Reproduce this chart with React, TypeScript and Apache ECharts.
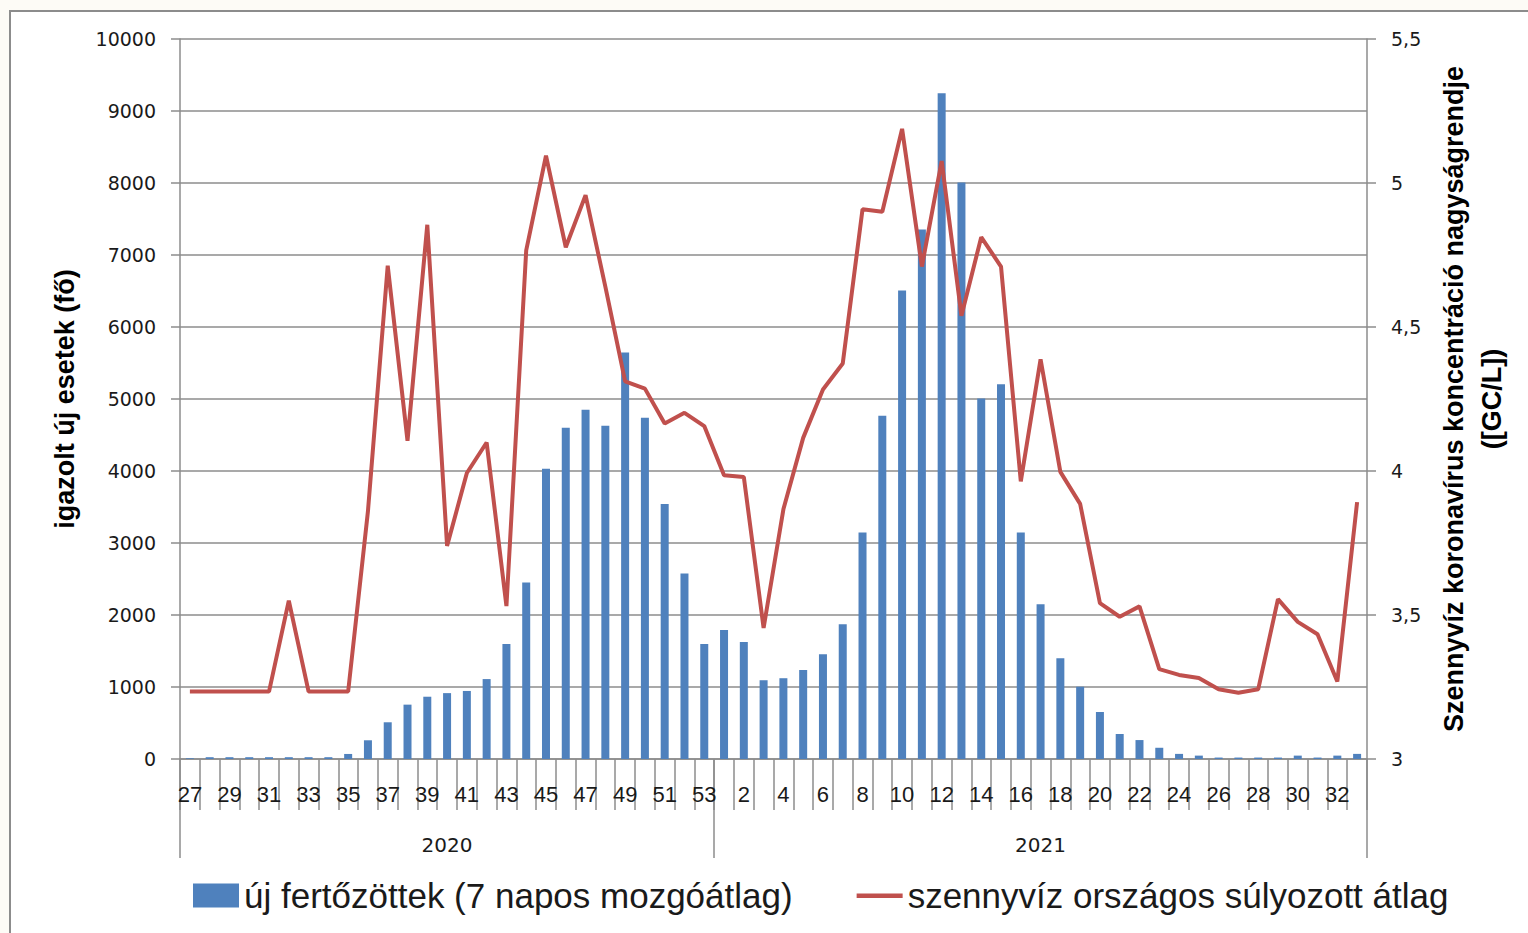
import React, { useEffect, useRef } from "react";
import * as echarts from "echarts";

const weeks2020 = ["27","28","29","30","31","32","33","34","35","36","37","38","39","40","41","42","43","44","45","46","47","48","49","50","51","52","53"];
const weeks2021 = ["1","2","3","4","5","6","7","8","9","10","11","12","13","14","15","16","17","18","19","20","21","22","23","24","25","26","27","28","29","30","31","32","33"];
const years = ["2020", "2021"];

const newCases2020 = [10, 25, 25, 25, 25, 25, 25, 25, 70, 260, 510, 755, 865, 915, 945, 1110, 1597, 2450, 4030, 4600, 4850, 4630, 5645, 4740, 3540, 2578, 1597];
const newCases2021 = [1790, 1625, 1094, 1122, 1235, 1455, 1873, 3146, 4768, 6508, 7353, 9247, 8007, 5006, 5204, 3146, 2150, 1399, 1004, 653, 347, 263, 156, 71, 47, 20, 20, 20, 20, 47, 20, 47, 71];

const sewage2020 = [3.234, 3.234, 3.234, 3.234, 3.234, 3.55, 3.234, 3.234, 3.234, 3.86, 4.713, 4.105, 4.855, 3.74, 3.993, 4.099, 3.531, 4.766, 5.095, 4.777, 4.958, 4.64, 4.311, 4.286, 4.165, 4.202, 4.156];
const sewage2021 = [3.985, 3.979, 3.455, 3.867, 4.115, 4.283, 4.373, 4.909, 4.9, 5.188, 4.71, 5.076, 4.539, 4.812, 4.71, 3.964, 4.388, 3.997, 3.886, 3.541, 3.494, 3.53, 3.312, 3.292, 3.281, 3.242, 3.23, 3.242, 3.555, 3.476, 3.433, 3.269, 3.892];

const leftTicks = { min: 0, max: 10000, interval: 1000 };
const rightTicks = { min: 3, max: 5.5, interval: 0.5 };

const barName = "új fertőzöttek (7 napos mozgóátlag)";
const lineName = "szennyvíz országos súlyozott átlag";
const leftAxisName = "igazolt új esetek (fő)";
const rightAxisName = "Szennyvíz koronavírus koncentráció nagyságrendje\n([GC/L])";

const categories = [...weeks2020, ...weeks2021];
const newCases = [...newCases2020, ...newCases2021];
const sewage = [...sewage2020, ...sewage2021];
const yearSpans = [weeks2020.length, weeks2021.length];

export default function App() {
  const ref = useRef<HTMLDivElement>(null);
  useEffect(() => {
    if (!ref.current) return;
    const chart = echarts.init(ref.current, null, { renderer: "svg" });
    const total = categories.length;
    const boundaries = [0, yearSpans[0], total];
    const yearCenters = [yearSpans[0] / 2, yearSpans[0] + yearSpans[1] / 2];
    const gray = "#8c8c8c";
    const axisFont = "DejaVu Sans";
    const lineIcon = "path://M0,0h0.01v0.01h-0.01zM0,10h46v4.5h-46zM45.99,23.99h0.01v0.01h-0.01z";
    chart.setOption({
      animation: false,
      backgroundColor: "#fdfbf6",
      graphic: [
        {
          type: "rect",
          z: -100,
          shape: { x: 10, y: 11, width: 1530, height: 940 },
          style: { fill: "#ffffff", stroke: gray, lineWidth: 2 },
        },
      ],
      grid: { left: 180, right: 161, top: 39, bottom: 174, containLabel: false },
      legend: {
        left: 193,
        top: 878,
        padding: 0,
        itemWidth: 46,
        itemHeight: 24,
        itemGap: 64,
        selectedMode: false,
        textStyle: { fontFamily: "Liberation Sans", fontSize: 35, color: "#1a1a1a" },
        data: [
          { name: barName, icon: "rect" },
          { name: lineName, icon: lineIcon },
        ],
      },
      xAxis: [
        {
          type: "category",
          data: categories,
          position: "bottom",
          boundaryGap: true,
          axisLine: { show: true, lineStyle: { color: gray, width: 1.5 } },
          axisTick: { show: true, interval: 0, length: 51, lineStyle: { color: gray, width: 1.5 } },
          axisLabel: { interval: 1, margin: 24, fontFamily: "Liberation Sans", fontSize: 22, color: "#1a1a1a" },
          splitLine: { show: false },
        },
        {
          type: "value",
          position: "bottom",
          min: 0,
          max: total,
          axisLine: { show: false },
          splitLine: { show: false },
          axisTick: { show: true, customValues: boundaries, length: 99, lineStyle: { color: gray, width: 1.5 } },
          axisLabel: {
            show: true,
            customValues: yearCenters,
            formatter: (v: number) => (v < yearSpans[0] ? years[0] : years[1]),
            margin: 76,
            fontFamily: axisFont,
            fontSize: 20,
            color: "#1a1a1a",
          },
        },
      ],
      yAxis: [
        {
          type: "value",
          position: "left",
          ...leftTicks,
          name: leftAxisName,
          nameLocation: "middle",
          nameRotate: 90,
          nameGap: 102,
          nameTextStyle: { fontFamily: "Liberation Sans", fontWeight: "bold", fontSize: 27, color: "#000" },
          axisLine: { show: true, lineStyle: { color: gray, width: 1.5 } },
          axisTick: { show: true, length: 9, lineStyle: { color: gray, width: 1.5 } },
          axisLabel: { margin: 24, fontFamily: axisFont, fontSize: 19, color: "#1a1a1a", formatter: (v: number) => String(v) },
          splitLine: { show: true, lineStyle: { color: gray, width: 1.5 } },
        },
        {
          type: "value",
          position: "right",
          ...rightTicks,
          name: rightAxisName,
          nameLocation: "middle",
          nameRotate: 90,
          nameGap: 68,
          nameTextStyle: { fontFamily: "Liberation Sans", fontWeight: "bold", fontSize: 27, lineHeight: 38, color: "#000" },
          axisLine: { show: true, lineStyle: { color: gray, width: 1.5 } },
          axisTick: { show: true, length: 9, lineStyle: { color: gray, width: 1.5 } },
          axisLabel: {
            margin: 24,
            fontFamily: axisFont,
            fontSize: 19,
            color: "#1a1a1a",
            formatter: (v: number) => String(v).replace(".", ","),
          },
          splitLine: { show: false },
        },
      ],
      series: [
        {
          name: barName,
          type: "bar",
          xAxisIndex: 0,
          yAxisIndex: 0,
          data: newCases,
          barWidth: 8,
          itemStyle: { color: "#4f81bd" },
        },
        {
          name: lineName,
          type: "line",
          xAxisIndex: 0,
          yAxisIndex: 1,
          data: sewage,
          symbol: "none",
          lineStyle: { color: "#c0504d", width: 4 },
          itemStyle: { color: "#c0504d" },
        },
      ],
    });
    return () => chart.dispose();
  }, []);
  return <div ref={ref} style={{ position: "fixed", left: 0, top: 0, width: 1528, height: 933 }} />;
}
